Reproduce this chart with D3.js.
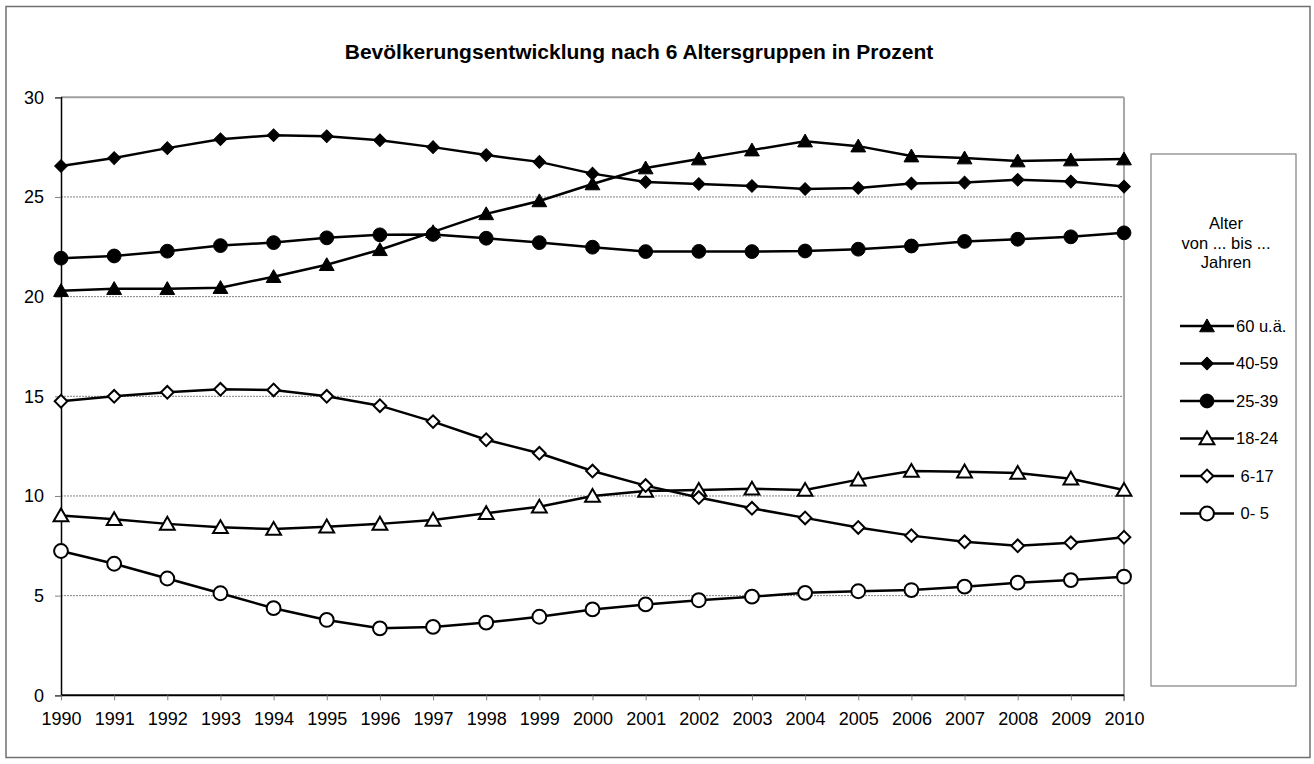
<!DOCTYPE html>
<html><head><meta charset="utf-8">
<script src="https://cdn.jsdelivr.net/npm/d3@7"></script>
<style>
html,body{margin:0;padding:0;background:#fff;}
text{font-family:"Liberation Sans",Arial,sans-serif;fill:#000;}
</style></head>
<body><svg id="c" width="1314" height="764"></svg>
<script>
const years = [1990,1991,1992,1993,1994,1995,1996,1997,1998,1999,2000,2001,2002,2003,2004,2005,2006,2007,2008,2009,2010];
const yTicks = [0,5,10,15,20,25,30];
const title = "Bevölkerungsentwicklung nach 6 Altersgruppen in Prozent";
const legendTitle = ["Alter","von ... bis ...","Jahren"];
const seriesNames = ["60 u.ä.","40-59","25-39","18-24"," 6-17"," 0- 5"];
const s60 = [20.3,20.4,20.4,20.45,21.0,21.6,22.35,23.25,24.15,24.8,25.65,26.45,26.9,27.35,27.8,27.55,27.05,26.95,26.8,26.85,26.9];
const s40 = [26.55,26.95,27.45,27.9,28.1,28.05,27.85,27.5,27.1,26.76,26.17,25.75,25.65,25.55,25.4,25.45,25.68,25.72,25.86,25.77,25.52];
const s25 = [21.93,22.04,22.28,22.56,22.71,22.95,23.1,23.12,22.93,22.71,22.48,22.26,22.27,22.26,22.29,22.38,22.54,22.77,22.88,23.0,23.2];
const s18 = [9.02,8.83,8.6,8.43,8.34,8.46,8.6,8.8,9.13,9.46,10.0,10.25,10.3,10.36,10.3,10.82,11.25,11.22,11.15,10.86,10.3];
const s6  = [14.75,15.0,15.2,15.35,15.32,15.0,14.53,13.73,12.82,12.14,11.25,10.52,9.92,9.38,8.9,8.42,8.01,7.7,7.5,7.65,7.93];
const s0  = [7.24,6.6,5.86,5.12,4.37,3.78,3.36,3.43,3.65,3.94,4.31,4.56,4.77,4.95,5.14,5.22,5.28,5.45,5.65,5.78,5.95];
const markers = ["triangle","diamond","circle","triangle","diamond","circle"];
const filled = [true,true,true,false,false,false];
const seriesValues = [s60,s40,s25,s18,s6,s0];

const svg = d3.select("#c");
svg.append("rect").attr("x",6).attr("y",6.5).attr("width",1304).attr("height",751)
  .attr("fill","none").attr("stroke","#707070").attr("stroke-width",1.5);

const x = d3.scalePoint().domain(years).range([61,1124]).padding(0);
const y = d3.scaleLinear().domain([0,30]).range([695.3,97.3]);

svg.append("g").selectAll("line").data(yTicks.filter(v=>v>0&&v<30)).join("line")
  .attr("x1",61).attr("x2",1124).attr("y1",d=>y(d)).attr("y2",d=>y(d))
  .attr("stroke","#808080").attr("stroke-width",1).attr("stroke-dasharray","2,1");
svg.append("line").attr("x1",61).attr("x2",1124).attr("y1",y(30)).attr("y2",y(30))
  .attr("stroke","#a0a0a0").attr("stroke-width",2);
svg.append("line").attr("x1",1124).attr("x2",1124).attr("y1",y(30)).attr("y2",y(0)+6)
  .attr("stroke","#a8a8a8").attr("stroke-width",2);

const yAxis = d3.axisLeft(y).tickValues(yTicks).tickSize(6).tickPadding(11).tickFormat(d3.format("d"));
const gy = svg.append("g").attr("transform","translate(61,0)").call(yAxis);
gy.select(".domain").attr("stroke","#000").attr("stroke-width",1.5);
gy.selectAll(".tick line").attr("stroke","#808080");
gy.selectAll(".tick text").attr("font-size",18).attr("font-family","Liberation Sans, Arial, sans-serif");

const xAxis = d3.axisBottom(x).tickSize(5).tickPadding(12);
const gx = svg.append("g").attr("transform",`translate(0,${y(0)})`).call(xAxis);
gx.select(".domain").attr("stroke","#000").attr("stroke-width",2).attr("d","M61,0H1124");
gx.selectAll(".tick line").attr("stroke","#808080");
gx.selectAll(".tick text").attr("font-size",18).attr("font-family","Liberation Sans, Arial, sans-serif");

svg.append("text").attr("x",639).attr("y",59).attr("text-anchor","middle")
  .attr("font-size",21).attr("font-weight","bold").text(title);

function symbolPath(type){
  if(type==="triangle") return d3.symbol(d3.symbolTriangle,95)();
  if(type==="diamond") return d3.symbol(d3.symbolSquare,80)();
  return d3.symbol(d3.symbolCircle,150)();
}
function drawMarker(g,type,isFilled,cx,cy){
  return g.append("path").attr("d",symbolPath(type))
    .attr("transform",`translate(${cx},${cy})`+(type==="diamond"?" rotate(45)":"")+(type==="triangle"?" translate(0,1.5)":""))
    .attr("fill",isFilled?"#000":"#fff").attr("stroke","#000").attr("stroke-width",isFilled?1:2);
}

const line = d3.line().x((d,i)=>x(years[i])).y(d=>y(d));
seriesValues.forEach((vals,si)=>{
  const g = svg.append("g");
  g.append("path").attr("d",line(vals)).attr("fill","none").attr("stroke","#000").attr("stroke-width",2.5);
  vals.forEach((v,i)=>drawMarker(g,markers[si],filled[si],x(years[i]),y(v)));
});

svg.append("rect").attr("x",1151).attr("y",154).attr("width",145).attr("height",532)
  .attr("fill","#fff").attr("stroke","#808080").attr("stroke-width",1.2);
legendTitle.forEach((t,i)=>{
  svg.append("text").attr("x",1226).attr("y",229+i*19.5).attr("text-anchor","middle")
    .attr("font-size",16.5).text(t);
});
seriesNames.forEach((n,i)=>{
  const cy = 326 + i*37.5;
  const g = svg.append("g");
  g.append("line").attr("x1",1180).attr("x2",1234).attr("y1",cy).attr("y2",cy)
    .attr("stroke","#000").attr("stroke-width",2.5);
  drawMarker(g,markers[i],filled[i],1207,cy);
  g.append("text").attr("x",1236).attr("y",cy).attr("dy","0.35em")
    .attr("font-size",16.5).style("white-space","pre").text(n);
});
</script></body></html>
